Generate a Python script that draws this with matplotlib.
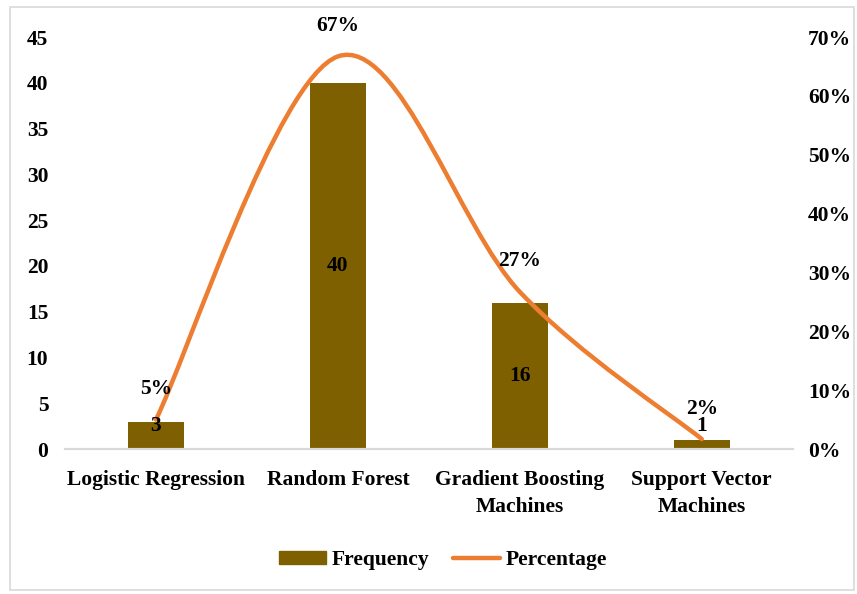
import numpy as np
import matplotlib.pyplot as plt
from matplotlib.path import Path
from matplotlib.patches import PathPatch, Patch, Rectangle
from matplotlib.lines import Line2D

plt.rcParams['font.family'] = ['Liberation Serif', 'DejaVu Serif']
plt.rcParams['font.weight'] = 'bold'

# data
models = ['Logistic Regression', 'Random Forest', 'Gradient Boosting\nMachines', 'Support Vector\nMachines']
frequency = [3, 40, 16, 1]
percentage = [5.0, 66.7, 26.7, 1.7]

bar_color = '#7F6000'
line_color = '#ED7D31'
fs = 15.5

fig = plt.figure(figsize=(8.57, 5.94), dpi=100)
ax = fig.add_axes([0.0758, 0.244, 0.8492, 0.6937])
ax2 = ax.twinx()

x = np.arange(len(models))
ax.bar(x, frequency, width=0.31, color=bar_color, zorder=2)
ax.set_xlim(-0.5, len(models) - 0.5)
ax.set_ylim(0, 45)
ax.set_yticks(np.arange(0, 46, 5))
ax.set_xticks(x)
ax.set_xticklabels(models, fontsize=fs, fontweight='bold', linespacing=1.5)
ax.tick_params(axis='x', length=0, pad=15)
ax.tick_params(axis='y', length=0, pad=12, labelsize=fs)

ax2.set_ylim(0, 70)
ax2.set_yticks(np.arange(0, 71, 10))
ax2.set_yticklabels(['%d%%' % v for v in range(0, 71, 10)], fontsize=fs)
ax2.tick_params(axis='y', length=0, pad=11)

for a in (ax, ax2):
    for s in ['top', 'left', 'right']:
        a.spines[s].set_visible(False)
    a.spines['bottom'].set_color('#D9D9D9')
    a.spines['bottom'].set_linewidth(1.5)

# smoothed line (bezier through points, like the spreadsheet smoothing)
pts = np.column_stack([x, percentage]).astype(float)
verts = [pts[0]]
codes = [Path.MOVETO]
n = len(pts)
for i in range(n - 1):
    p0 = pts[i - 1] if i > 0 else pts[i]
    p1 = pts[i]
    p2 = pts[i + 1]
    p3 = pts[i + 2] if i + 2 < n else pts[i + 1]
    c1 = p1 + (p2 - p0) / 6.0
    c2 = p2 - (p3 - p1) / 6.0
    verts += [c1, c2, p2]
    codes += [Path.CURVE4] * 3
curve = PathPatch(Path(verts, codes), facecolor='none', edgecolor=line_color,
                  lw=3.2, capstyle='round', transform=ax2.transData, zorder=3)
ax2.add_patch(curve)

# labels
for xi, f in zip(x, frequency):
    ax2.text(xi, max(f / 2, 2.5), str(f), transform=ax.transData, ha='center',
             va='center', fontsize=fs, fontweight='bold', zorder=5)
for xi, p in zip(x, percentage):
    ax2.annotate('%.0f%%' % p, (xi, p), xytext=(0, 22), textcoords='offset points',
                 ha='center', va='center', fontsize=fs, fontweight='bold')

handles = [Patch(color=bar_color), Line2D([0], [0], color=line_color, lw=3.2, solid_capstyle='round')]
fig.legend(handles, ['Frequency', 'Percentage'], loc='center', bbox_to_anchor=(0.517, 0.057),
           ncol=2, frameon=False, fontsize=fs, handlelength=2.2, handleheight=0.5,
           columnspacing=1.1, handletextpad=0.25)

fig.patches.append(Rectangle((0.012, 0.006), 0.985, 0.982, transform=fig.transFigure,
                             fill=False, edgecolor='#D9D9D9', lw=1.2))

fig.savefig('out.png', dpi=100)
